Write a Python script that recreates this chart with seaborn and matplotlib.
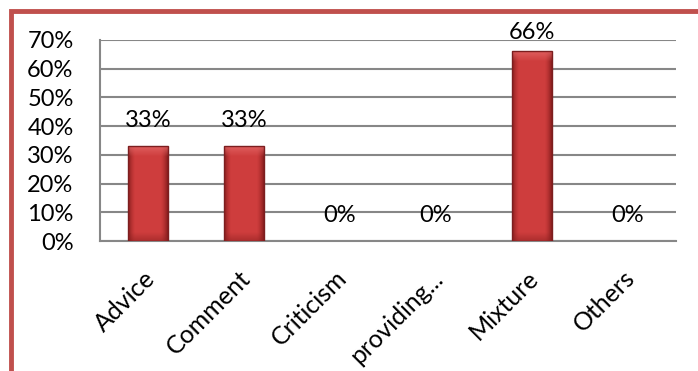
import matplotlib
matplotlib.use("Agg")
import matplotlib.pyplot as plt
import matplotlib.transforms as mtransforms
import numpy as np
import pandas as pd
import seaborn as sns
from matplotlib.patches import Rectangle

# --- Daten ---
categories = ["Advice", "Comment", "Criticism", "providing...", "Mixture", "Others"]
shares = [0.33, 0.33, 0.0, 0.0, 0.66, 0.0]
value_labels = ["33%", "33%", "0%", "0%", "66%", "0%"]
y_ticks = [0.0, 0.1, 0.2, 0.3, 0.4, 0.5, 0.6, 0.7]
y_tick_labels = ["0%", "10%", "20%", "30%", "40%", "50%", "60%", "70%"]

df = pd.DataFrame({"category": categories, "share": shares})

sns.set_style("white")
plt.rcParams["font.family"] = ["Lato", "DejaVu Sans"]

grid_col = "#878787"
fs = 17

fig = plt.figure(figsize=(6.98, 3.71), dpi=100)
ax = fig.add_axes([100 / 698, 1 - 241 / 371, 576 / 698, 201 / 371])

sns.barplot(data=df, x="category", y="share", ax=ax, color="#cc3c3d",
            edgecolor="#7c1e1f", linewidth=1.0, width=0.41, saturation=1, zorder=3)

ax.set_xlim(-0.5, len(categories) - 0.5)
ax.set_ylim(0, 0.7)

# Balken mit Farbverlauf (Excel-Optik), leere Balken ohne Rand
base = np.array([0.81, 0.24, 0.24])
dark = np.array([0.54, 0.12, 0.12])
light = np.array([0.89, 0.40, 0.40])
for p in ax.patches:
    h = p.get_height()
    if h <= 0:
        p.set_visible(False)
        continue
    x0, w = p.get_x(), p.get_width()
    nx, ny = 60, max(int(h / 0.002), 2)
    t = np.linspace(0, 1, nx)
    side = np.clip(1 - np.minimum(t, 1 - t) / 0.18, 0, 1) ** 1.5
    yy = np.linspace(0, h, ny)[:, None]
    img = base[None, None, :] * (1 - side[None, :, None]) + dark[None, None, :] * side[None, :, None]
    img = np.repeat(img, ny, axis=0)
    top = np.clip(1 - (h - yy) / 0.035, 0, 1)[:, :, None]
    img = img * (1 - 0.8 * top) + light[None, None, :] * 0.8 * top
    bot = np.clip(1 - yy / 0.03, 0, 1)[:, :, None]
    img = img * (1 - 0.5 * bot) + dark[None, None, :] * 0.5 * bot
    im = ax.imshow(img, extent=(x0, x0 + w, 0, h), origin="lower",
                   aspect="auto", zorder=2.9, interpolation="bilinear")
    im.set_clip_path(p)
    p.set_facecolor("none")

ax.set_xlim(-0.5, len(categories) - 0.5)
ax.set_ylim(0, 0.7)
ax.set_yticks(y_ticks)
ax.set_yticklabels(y_tick_labels, fontsize=fs, color="black")
ax.yaxis.grid(True, color=grid_col, linewidth=1.5, zorder=0)
ax.set_axisbelow(True)

# Kategoriegrenzen als kleine Ticks unten
ax.set_xticks(np.arange(len(categories)))
ax.set_xticklabels(categories, rotation=45, ha="right", va="top",
                   rotation_mode="anchor", fontsize=18, color="black")
ax.set_xticks(np.arange(len(categories) + 1) - 0.5, minor=True)
ax.tick_params(axis="x", which="major", length=0, pad=16)
ax.tick_params(axis="x", which="minor", length=6, width=1.5, color=grid_col, direction="out")
ax.tick_params(axis="y", length=6, width=1.5, color=grid_col, direction="out", pad=13)

# Beschriftungen etwas nach links unten schieben
shift = mtransforms.ScaledTranslation(-5 / 100, -3 / 100, fig.dpi_scale_trans)
for lab in ax.get_xticklabels():
    lab.set_transform(lab.get_transform() + shift)

for side in ["top", "right"]:
    ax.spines[side].set_visible(False)
for side in ["left", "bottom"]:
    ax.spines[side].set_color(grid_col)
    ax.spines[side].set_linewidth(1.5)

ax.set_xlabel("")
ax.set_ylabel("")

# Datenbeschriftungen ueber den Balken (oben an den Diagrammrand geschoben)
for i, (v, lab) in enumerate(zip(shares, value_labels)):
    ax.text(i, min(v + 0.066, 0.7035), lab, ha="center", va="baseline",
            fontsize=fs, color="black", zorder=4, clip_on=False)

# roter Rahmen (rechts/unten abgeschnitten)
fig.patches.append(Rectangle((11.5 / 698, -0.1), 1.2, 1 - 11 / 371 + 0.1,
                             transform=fig.transFigure, fill=False,
                             edgecolor="#c0504d", linewidth=3.5))

fig.savefig("out.png", dpi=100)
